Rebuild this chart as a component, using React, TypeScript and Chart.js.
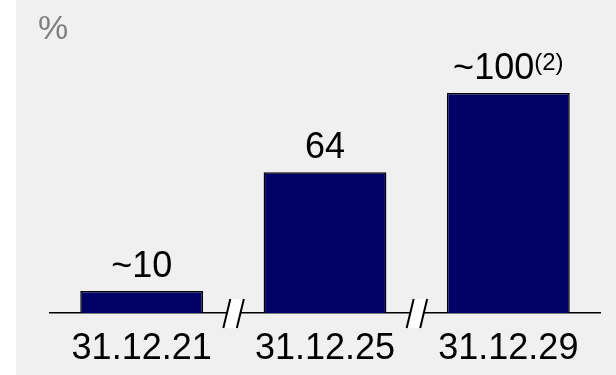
import React, { useEffect, useRef } from "react";
import { Chart, registerables } from "chart.js";

Chart.register(...registerables);

const categories = ["31.12.21", "31.12.25", "31.12.29"];
const values = [10, 64, 100];
const valueLabels = ["~10", "64", "~100"];
const valueSups = ["", "", "(2)"];
const unitLabel = "%";

const FONT = "'Liberation Sans', Arial, sans-serif";

const decorPlugin = {
  id: "decor",
  afterDatasetsDraw(chart: any) {
    const { ctx } = chart;
    const meta = chart.getDatasetMeta(0);
    ctx.save();
    ctx.fillStyle = "#000";
    ctx.textBaseline = "alphabetic";
    meta.data.forEach((bar: any, i: number) => {
      const main = valueLabels[i];
      const sup = valueSups[i];
      ctx.font = `36px ${FONT}`;
      const wMain = ctx.measureText(main).width;
      ctx.font = `24px ${FONT}`;
      const wSup = sup ? ctx.measureText(sup).width : 0;
      const total = wMain + wSup;
      const start = bar.x - total / 2;
      const base = bar.y - 14;
      ctx.textAlign = "left";
      ctx.font = `36px ${FONT}`;
      ctx.fillText(main, start, base);
      if (sup) {
        ctx.font = `24px ${FONT}`;
        ctx.fillText(sup, start + wMain, base - 9);
      }
    });
    ctx.fillStyle = "#808080";
    ctx.font = `34px ${FONT}`;
    ctx.textAlign = "left";
    ctx.fillText(unitLabel, 22, 39);
    ctx.restore();
  },
  afterDraw(chart: any) {
    const { ctx, chartArea } = chart;
    const xs = chart.scales.x;
    const yb = chartArea.bottom;
    ctx.save();
    for (let i = 0; i < categories.length - 1; i++) {
      const xb = (xs.getPixelForValue(i) + xs.getPixelForValue(i + 1)) / 2;
      const lb = [xb - 10, yb + 15];
      const lt = [xb - 3, yb - 14];
      const rb = [xb + 3.5, yb + 15];
      const rt = [xb + 10.5, yb - 14];
      ctx.fillStyle = "#ffffff";
      ctx.beginPath();
      ctx.moveTo(lb[0], lb[1]);
      ctx.lineTo(lt[0], lt[1]);
      ctx.lineTo(rt[0], rt[1]);
      ctx.lineTo(rb[0], rb[1]);
      ctx.closePath();
      ctx.fill();
      ctx.strokeStyle = "#000";
      ctx.lineWidth = 2;
      ctx.beginPath();
      ctx.moveTo(lb[0], lb[1]);
      ctx.lineTo(lt[0], lt[1]);
      ctx.moveTo(rb[0], rb[1]);
      ctx.lineTo(rt[0], rt[1]);
      ctx.stroke();
    }
    ctx.restore();
  },
};

export default function App() {
  const ref = useRef<HTMLCanvasElement | null>(null);
  useEffect(() => {
    if (!ref.current) return;
    const chart = new Chart(ref.current, {
      type: "bar",
      data: {
        labels: categories,
        datasets: [
          {
            data: values,
            backgroundColor: "#000066",
            borderColor: "#000",
            borderWidth: 1.5,
            categoryPercentage: 1,
            barPercentage: 0.67,
          },
        ],
      },
      options: {
        animation: false,
        responsive: false,
        maintainAspectRatio: false,
        layout: { padding: { left: 34, right: 16, top: 27, bottom: 0 } },
        plugins: { legend: { display: false }, tooltip: { enabled: false } },
        scales: {
          x: {
            grid: { display: true, color: "transparent", drawTicks: false },
            border: { display: true, color: "#000", width: 1.5 },
            ticks: {
              color: "#000",
              font: { family: FONT, size: 36 },
              padding: 14,
              maxRotation: 0,
              autoSkip: false,
            },
            afterFit: (scale: any) => {
              scale.height = 62;
            },
          },
          y: { display: false, min: 0, max: 130 },
        },
      },
      plugins: [decorPlugin],
    });
    return () => chart.destroy();
  }, []);
  return (
    <div
      style={{
        position: "absolute",
        left: 16,
        top: 0,
        width: 600,
        height: 375,
        background: "#f0f0f0",
      }}
    >
      <canvas ref={ref} width={600} height={375} style={{ display: "block" }} />
    </div>
  );
}
